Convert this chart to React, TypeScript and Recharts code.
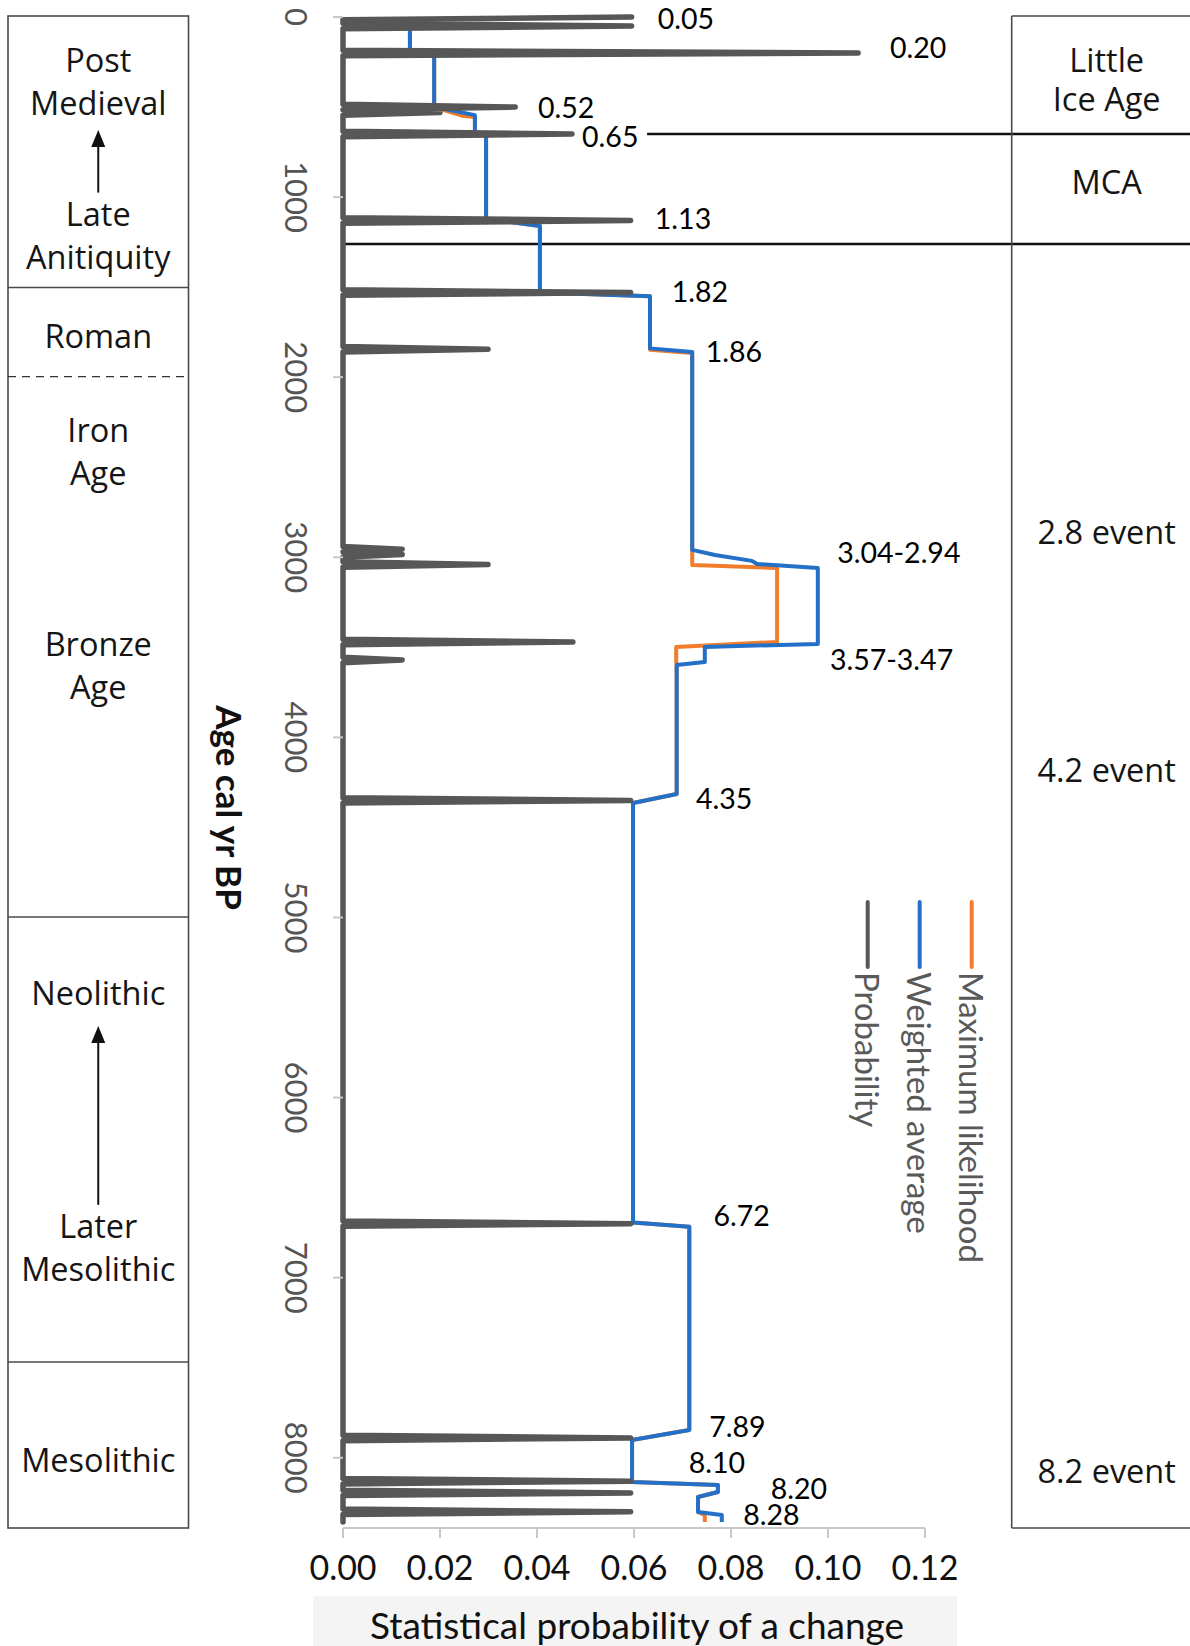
import { Legend, Line, LineChart, ReferenceDot, ReferenceLine, XAxis, YAxis } from 'recharts';

const WIDTH = 1190;
const HEIGHT = 1646;
const PLOT_LEFT = 343;
const PLOT_RIGHT = 925;
const PLOT_TOP = 17;
const PLOT_BOTTOM = 1528;
const Y_AXIS_WIDTH = 50;
const X_AXIS_HEIGHT = 60;

const AGE_MAX = 8390;
const probTicks = [0, 0.02, 0.04, 0.06, 0.08, 0.1, 0.12];
const ageTicks = [0, 1000, 2000, 3000, 4000, 5000, 6000, 7000, 8000];

// probability of a change, cal yr BP vs probability (spikes on a zero baseline)
const probabilityAge = [
  0, 15, 35, 50, 65, 185, 200, 215, 485, 500, 515, 530, 545, 635, 650, 665,
  1115, 1130, 1145, 1515, 1530, 1545, 1830, 1845, 1860, 2940, 2955, 2970, 2985, 3000,
  3025, 3040, 3055, 3455, 3470, 3485, 3555, 3570, 3585, 4335, 4350, 4365,
  6685, 6700, 6715, 7875, 7890, 7905, 8115, 8130, 8145, 8180, 8195, 8210,
  8285, 8300, 8315, 8357,
];
const probabilityValue = [
  0.0595, 0, 0, 0.0595, 0, 0, 0.1062, 0, 0, 0.0355, 0, 0.02, 0, 0, 0.0472, 0,
  0, 0.0593, 0, 0, 0.0593, 0, 0, 0.0299, 0, 0, 0.0122, 0, 0.0122, 0,
  0, 0.0299, 0, 0, 0.0474, 0, 0, 0.0122, 0, 0, 0.0593, 0,
  0, 0.0593, 0, 0, 0.0593, 0, 0, 0.0593, 0, 0, 0.0593, 0,
  0, 0.0593, 0, 0,
];

const weightedAge = [
  0, 185, 200, 500, 545, 640, 660, 1120, 1160, 1530, 1550, 1840, 1860,
  2959, 2987, 3020, 3037, 3059, 3481, 3498, 3581, 3598, 4314, 4364,
  6694, 6717, 7846, 7901, 8134, 8151, 8190, 8218, 8301, 8318, 8357,
];
const weightedValue = [
  0.0138, 0.0138, 0.0188, 0.0188, 0.0272, 0.0272, 0.0295, 0.0295, 0.0406, 0.0406, 0.0633, 0.0633, 0.072,
  0.072, 0.0767, 0.0843, 0.0854, 0.0979, 0.0979, 0.0746, 0.0746, 0.0688, 0.0688, 0.0598,
  0.0598, 0.0714, 0.0714, 0.0596, 0.0596, 0.0773, 0.0773, 0.0732, 0.0732, 0.0781, 0.0781,
];

const maxLikelihoodAge = [
  0, 185, 200, 500, 548, 556, 640, 660, 1120, 1160, 1530, 1550, 1848, 1866,
  3043, 3059, 3470, 3498, 3581, 3598, 4314, 4364, 6694, 6717, 7846, 7901,
  8134, 8151, 8190, 8218, 8301, 8318, 8357,
];
const maxLikelihoodValue = [
  0.0138, 0.0138, 0.0188, 0.0188, 0.0245, 0.0272, 0.0272, 0.0295, 0.0295, 0.0406, 0.0406, 0.0633, 0.0633, 0.072,
  0.072, 0.0895, 0.0895, 0.0687, 0.0687, 0.0688, 0.0688, 0.0598, 0.0598, 0.0714, 0.0714, 0.0596,
  0.0596, 0.0773, 0.0773, 0.0732, 0.0732, 0.0746, 0.0746,
];

// change-point labels (ka) and where their text sits
const eventText = ['0.05', '0.20', '0.52', '0.65', '1.13', '1.82', '1.86', '3.04-2.94', '3.57-3.47', '4.35', '6.72', '7.89', '8.10', '8.20', '8.28'];
const eventTextProb = [0.0649, 0.1128, 0.0402, 0.0493, 0.0643, 0.0678, 0.0748, 0.1019, 0.1004, 0.0728, 0.0764, 0.0755, 0.0713, 0.0882, 0.0825];
const eventTextAge = [4, 167, 500, 661, 1116, 1520, 1857, 2971, 3565, 4334, 6652, 7822, 8025, 8168, 8312];

// archaeological periods (left column); age is where the first line sits
const periodBreaks = [1502, 4997, 7468];
const periodDashedBreaks = [1997];
const periodLines = [
  ['Post', 'Medieval'],
  ['Late', 'Anitiquity'],
  ['Roman'],
  ['Iron', 'Age'],
  ['Bronze', 'Age'],
  ['Neolithic'],
  ['Later', 'Mesolithic'],
  ['Mesolithic'],
];
const periodTextAge = [238, 1094, 1772, 2293, 3481, 5419, 6713, 8012];
const periodArrowTip = [627, 5602];
const periodArrowTail = [975, 6596];

// climate episodes (right column)
const climateBreaks = [650, 1260];
const climateLines = [['Little', 'Ice Age'], ['MCA'], ['2.8 event'], ['4.2 event'], ['8.2 event']];
const climateTextAge = [238, 916, 2859, 4181, 8073];

const legendOrder = ['Probability', 'Weighted average', 'Maximum likelihood'];

const toRows = (ages: number[], values: number[]) => ages.map((age, i) => ({ age, value: values[i] }));

const probabilityRows = toRows(probabilityAge, probabilityValue);
const weightedRows = toRows(weightedAge, weightedValue);
const maxLikelihoodRows = toRows(maxLikelihoodAge, maxLikelihoodValue);

const ageToY = (age: number) => PLOT_TOP + (age / AGE_MAX) * (PLOT_BOTTOM - PLOT_TOP);

const CHART_FONT = 'Lato, "Open Sans", sans-serif';
const BOX_FONT = '"Open Sans", "Noto Sans", sans-serif';

function AgeTick({ x, y, payload }: any) {
  return (
    <text
      transform={`translate(${x - 34},${y}) rotate(90)`}
      textAnchor="middle"
      dominantBaseline="central"
      fontSize={31}
      fontFamily={CHART_FONT}
      fill="#555"
    >
      {payload.value}
    </text>
  );
}

function ProbTick({ x, y, payload }: any) {
  return (
    <text x={x} y={y + 26} textAnchor="middle" dominantBaseline="central" fontSize={34} fontFamily={CHART_FONT} fill="#111">
      {Number(payload.value).toFixed(2)}
    </text>
  );
}

function XTitle({ viewBox }: any) {
  const cx = viewBox.x + viewBox.width / 2 + 3;
  return (
    <g>
      <rect x={313} y={viewBox.y + 68} width={644} height={HEIGHT - viewBox.y - 68} fill="#f4f4f4" />
      <text x={cx} y={viewBox.y + 96} textAnchor="middle" dominantBaseline="central" fontSize={37} fontFamily={CHART_FONT} fill="#111">
        Statistical probability of a change
      </text>
    </g>
  );
}

function YTitle({ viewBox }: any) {
  return (
    <text
      transform={`translate(${viewBox.x - 63},${viewBox.y + viewBox.height / 2 + 35}) rotate(90)`}
      textAnchor="middle"
      dominantBaseline="central"
      fontSize={35}
      fontWeight={700}
      fontFamily={CHART_FONT}
      fill="#111"
    >
      Age cal yr BP
    </text>
  );
}

function RotatedLegend({ payload }: any) {
  const items = legendOrder.map((name) => (payload || []).find((p: any) => p.value === name)).filter(Boolean);
  return (
    <svg width={160} height={440}>
      {items.map((item: any, i: number) => {
        const cx = 27.7 + 52 * i;
        return (
          <g key={item.value}>
            <line x1={cx} x2={cx} y1={12} y2={77} stroke={item.color} strokeWidth={4} strokeLinecap="round" />
            <text
              transform={`translate(${cx},${82}) rotate(90)`}
              textAnchor="start"
              dominantBaseline="central"
              fontSize={33}
              fontFamily={CHART_FONT}
              fill="#595959"
            >
              {item.value}
            </text>
          </g>
        );
      })}
    </svg>
  );
}

// one text element per box label, extra lines stacked as tspans
function BoxLabel({ x, y, lines, gap }: { x: number; y: number; lines: string[]; gap: number }) {
  return (
    <text x={x} y={y} textAnchor="middle" fontSize={32.5} fill="#151515">
      {lines.map((line, i) => (
        <tspan key={i} x={x} dy={i === 0 ? '0.36em' : gap}>
          {line}
        </tspan>
      ))}
    </text>
  );
}

function SideColumns() {
  const top = PLOT_TOP - 1;
  const bottom = PLOT_BOTTOM;
  const leftX1 = 8;
  const leftX2 = 188.5;
  const leftCx = (leftX1 + leftX2) / 2;
  const rightX = 1011.7;
  const rightCx = 1106.7;
  const border = '#4a4a4a';
  return (
    <svg
      width={WIDTH}
      height={HEIGHT}
      style={{ position: 'absolute', left: 0, top: 0, pointerEvents: 'none' }}
      fontFamily={BOX_FONT}
    >
      <rect x={leftX1} y={top} width={leftX2 - leftX1} height={bottom - top} fill="none" stroke={border} strokeWidth={1.6} />
      {periodBreaks.map((age) => (
        <line key={age} x1={leftX1} x2={leftX2} y1={ageToY(age)} y2={ageToY(age)} stroke={border} strokeWidth={1.6} />
      ))}
      {periodDashedBreaks.map((age) => (
        <line key={age} x1={leftX1} x2={leftX2} y1={ageToY(age)} y2={ageToY(age)} stroke="#333" strokeWidth={1.4} strokeDasharray="8 6" />
      ))}
      {periodLines.map((lines, i) => (
        <BoxLabel key={i} x={leftCx} y={ageToY(periodTextAge[i])} lines={lines} gap={43.5} />
      ))}
      {periodArrowTip.map((tipAge, i) => {
        const tip = ageToY(tipAge);
        const tail = ageToY(periodArrowTail[i]);
        return (
          <g key={tipAge}>
            <line x1={leftCx} x2={leftCx} y1={tip + 14} y2={tail} stroke="#111" strokeWidth={2} />
            <polygon points={`${leftCx},${tip} ${leftCx - 7},${tip + 17} ${leftCx + 7},${tip + 17}`} fill="#111" />
          </g>
        );
      })}

      <line x1={rightX} x2={rightX} y1={top} y2={bottom} stroke={border} strokeWidth={1.6} />
      <line x1={rightX} x2={WIDTH} y1={top} y2={top} stroke={border} strokeWidth={1.6} />
      <line x1={rightX} x2={WIDTH} y1={bottom} y2={bottom} stroke={border} strokeWidth={1.6} />
      {climateLines.map((lines, i) => (
        <BoxLabel key={i} x={rightCx} y={ageToY(climateTextAge[i])} lines={lines} gap={39} />
      ))}
    </svg>
  );
}

export default function App() {
  return (
    <div style={{ position: 'absolute', left: 0, top: 0, width: WIDTH, height: HEIGHT, background: '#fff' }}>
      <LineChart
        layout="vertical"
        width={WIDTH}
        height={HEIGHT}
        margin={{
          top: PLOT_TOP,
          right: WIDTH - PLOT_RIGHT,
          left: PLOT_LEFT - Y_AXIS_WIDTH,
          bottom: HEIGHT - PLOT_BOTTOM - X_AXIS_HEIGHT,
        }}
        style={{ fontFamily: CHART_FONT }}
      >
        <XAxis
          type="number"
          domain={[0, 0.12]}
          ticks={probTicks}
          height={X_AXIS_HEIGHT}
          tick={<ProbTick />}
          tickSize={10}
          axisLine={{ stroke: '#c8c8c8', strokeWidth: 2 }}
          tickLine={{ stroke: '#c8c8c8', strokeWidth: 2 }}
          label={(props: any) => <XTitle {...props} />}
        />
        <YAxis
          type="number"
          dataKey="age"
          domain={[0, AGE_MAX]}
          ticks={ageTicks}
          width={Y_AXIS_WIDTH}
          tick={<AgeTick />}
          tickSize={10}
          axisLine={false}
          tickLine={{ stroke: '#c8c8c8', strokeWidth: 2 }}
          label={(props: any) => <YTitle {...props} />}
        />

        <ReferenceLine segment={[{ x: 0.0627, y: climateBreaks[0] }, { x: 0.18, y: climateBreaks[0] }]} stroke="#111" strokeWidth={2.5} ifOverflow="visible" />
        <ReferenceLine segment={[{ x: 0, y: climateBreaks[1] }, { x: 0.18, y: climateBreaks[1] }]} stroke="#111" strokeWidth={2.5} ifOverflow="visible" />

        <Line
          data={maxLikelihoodRows}
          dataKey="value"
          name="Maximum likelihood"
          type="linear"
          stroke="#f07c2c"
          strokeWidth={4}
          strokeLinejoin="round"
          dot={false}
          isAnimationActive={false}
        />
        <Line
          data={weightedRows}
          dataKey="value"
          name="Weighted average"
          type="linear"
          stroke="#2370c9"
          strokeWidth={4}
          strokeLinejoin="round"
          dot={false}
          isAnimationActive={false}
        />
        <Line
          data={probabilityRows}
          dataKey="value"
          name="Probability"
          type="linear"
          stroke="#575757"
          strokeWidth={5.5}
          strokeLinejoin="round"
          strokeLinecap="round"
          dot={false}
          isAnimationActive={false}
        />

        {eventText.map((t, i) => (
          <ReferenceDot
            key={t}
            x={eventTextProb[i]}
            y={eventTextAge[i]}
            r={0}
            ifOverflow="visible"
            shape={(p: any) => (
              <text x={p.cx} y={p.cy} dominantBaseline="central" fontSize={28.5} fontFamily={CHART_FONT} fill="#000">
                {t}
              </text>
            )}
          />
        ))}

        <Legend
          layout="vertical"
          align="center"
          verticalAlign="middle"
          content={<RotatedLegend />}
          wrapperStyle={{ left: 840, top: 890, width: 160, height: 440 }}
        />
      </LineChart>
      <SideColumns />
    </div>
  );
}
